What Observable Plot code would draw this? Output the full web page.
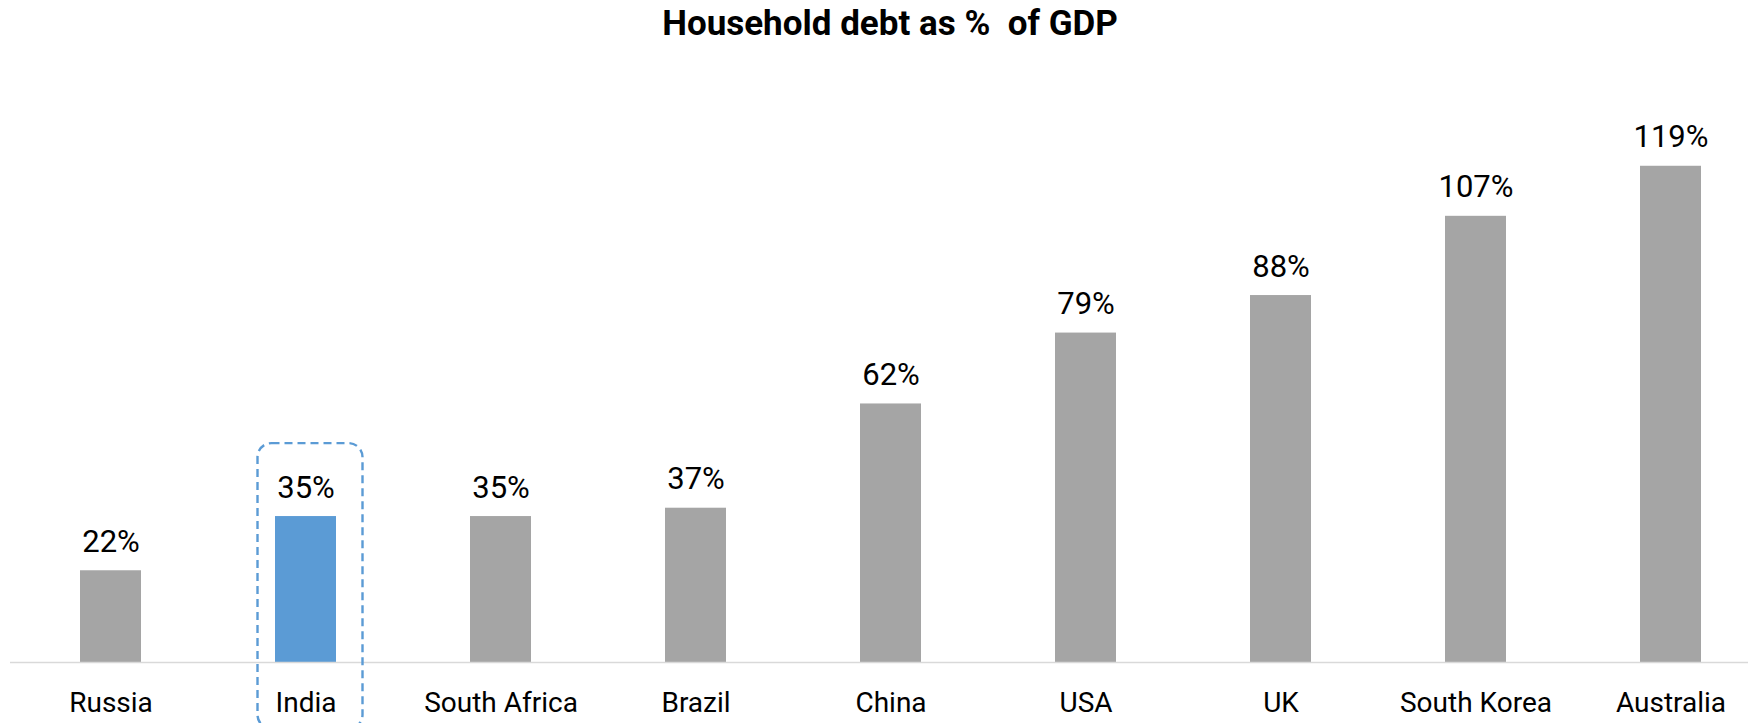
<!DOCTYPE html>
<html>
<head>
<meta charset="utf-8">
<script src="https://cdn.jsdelivr.net/npm/d3@7"></script>
<script src="https://cdn.jsdelivr.net/npm/@observablehq/plot@0.6"></script>
<style>
  html, body { margin: 0; padding: 0; background: #fff; }
  body { width: 1748px; height: 723px; overflow: hidden; font-family: Roboto, "Noto Sans", sans-serif; }
  #title { height: 48px; line-height: 48px; text-align: center; padding-left: 32px; box-sizing: border-box;
           font-size: 35px; font-weight: 700; color: #000; white-space: pre; }
</style>
</head>
<body>
<div id="title">Household debt as %  of GDP</div>
<div id="chart"></div>
<script>
const countries = ["Russia", "India", "South Africa", "Brazil", "China", "USA", "UK", "South Korea", "Australia"];
const debtPct = [22, 35, 35, 37, 62, 79, 88, 107, 119];
const highlight = "India";
const boxRange = [-16, 52.5]; // y extent of the dashed highlight box, in % units

const data = countries.map((c, i) => ({country: c, value: debtPct[i]}));

const W = 1748, H = 675;
const baseY = 614, pxPerUnit = 4.17;

const chart = Plot.plot({
  width: W,
  height: H,
  marginTop: 0,
  marginLeft: 10,
  marginRight: 0,
  marginBottom: H - baseY,
  style: {fontFamily: "Roboto, 'Noto Sans', sans-serif", fontSize: "28px", color: "#000", background: "#fff", overflow: "visible"},
  x: {domain: countries, range: [12.3, 1768], paddingInner: 0.687, paddingOuter: 0.3435, label: null},
  y: {domain: [0, 130], range: [baseY, baseY - pxPerUnit * 130], axis: null},
  marks: [
    Plot.barY(data, {
      x: "country", y: "value",
      fill: d => d.country === highlight ? "#5b9bd5" : "#a5a5a5"
    }),
    Plot.ruleY([0], {stroke: "#d9d9d9", strokeWidth: 1.6}),
    Plot.barY([{country: highlight}], {
      x: "country", y1: boxRange[0], y2: boxRange[1],
      fill: "none", stroke: "#5b9bd5", strokeWidth: 2.4, strokeDasharray: "8,5",
      rx: 14, insetLeft: -17.5, insetRight: -26.5
    }),
    Plot.text(data, {
      x: "country", y: "value", text: d => d.value + "%",
      lineAnchor: "bottom", dy: -19, fill: "#000", fontSize: 31
    }),
    Plot.axisX({tickSize: 0, tickPadding: 30, fontSize: 28, fill: "#000", label: null})
  ]
});
document.getElementById("chart").appendChild(chart);
</script>
</body>
</html>
